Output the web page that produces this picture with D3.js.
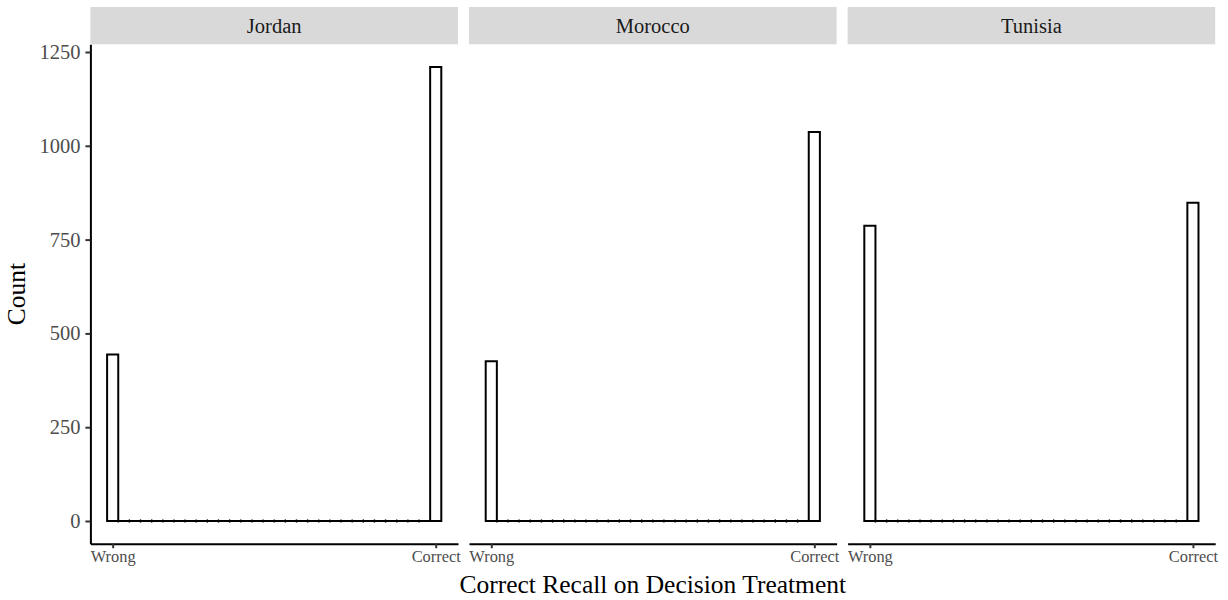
<!DOCTYPE html>
<html>
<head>
<meta charset="utf-8">
<script src="https://cdn.jsdelivr.net/npm/d3@7"></script>
<style>
  body { margin: 0; background: #fff; }
  text { font-family: "Liberation Serif", "Times New Roman", serif; }
</style>
</head>
<body>
<svg id="chart" width="1228" height="600"></svg>
<script>
// Facets: one histogram of recall (0 = Wrong, 1 = Correct) per country, 30 bins
const countries = ["Jordan", "Morocco", "Tunisia"];
const binCountsJordan  = [444, 0,0,0,0,0,0,0,0,0,0,0,0,0,0,0,0,0,0,0,0,0,0,0,0,0,0,0,0, 1210];
const binCountsMorocco = [426, 0,0,0,0,0,0,0,0,0,0,0,0,0,0,0,0,0,0,0,0,0,0,0,0,0,0,0,0, 1037];
const binCountsTunisia = [787, 0,0,0,0,0,0,0,0,0,0,0,0,0,0,0,0,0,0,0,0,0,0,0,0,0,0,0,0, 848];
const xTickValues = [0, 1];
const xTickLabels = ["Wrong", "Correct"];
const yTickValues = [0, 250, 500, 750, 1000, 1250];
const xTitle = "Correct Recall on Decision Treatment";
const yTitle = "Count";

const facetCounts = [binCountsJordan, binCountsMorocco, binCountsTunisia];

const svg = d3.select("#chart");

// Panel geometry
const panelLeft = 90.4, panelRight = 1215.2, gap = 11;
const panelW = (panelRight - panelLeft - 2 * gap) / 3;
const panelTop = 44.3, panelBottom = 543.7;
const stripTop = 7;

// Bins centred on 0 and 1 (binwidth = range / (bins - 1))
const nBins = 30;
const bw = 1 / (nBins - 1);
const lo = -bw / 2, hi = 1 + bw / 2;
const xr = hi - lo;
const xDomain = [lo - 0.05 * xr, hi + 0.05 * xr];

const yMax = d3.max(facetCounts, c => d3.max(c));
const yDomain = [-0.05 * yMax, yMax * 1.05];
const y = d3.scaleLinear().domain(yDomain).range([panelBottom, panelTop]);

facetCounts.forEach((counts, i) => {
  const px = panelLeft + i * (panelW + gap);
  const x = d3.scaleLinear().domain(xDomain).range([px, px + panelW]);
  const g = svg.append("g");

  // strip
  g.append("rect")
    .attr("x", px).attr("y", stripTop)
    .attr("width", panelW).attr("height", panelTop - stripTop)
    .attr("fill", "#D9D9D9");
  g.append("text")
    .attr("x", px + panelW / 2).attr("y", (stripTop + panelTop) / 2)
    .attr("dy", "0.35em")
    .attr("text-anchor", "middle")
    .attr("font-size", 20.5)
    .attr("fill", "#1A1A1A")
    .text(countries[i]);

  // histogram bars (empty bins collapse onto the zero line)
  const bins = counts.map((c, k) => ({ x0: lo + k * bw, x1: lo + (k + 1) * bw, n: c }));
  const bars = g.append("g");
  bars.selectAll("path.bar").data(bins).join("path")
    .attr("class", "bar")
    .attr("d", b => {
      const x0 = x(b.x0), x1 = x(b.x1), y0 = y(0), y1 = y(b.n);
      return `M${x0},${y0}V${y1}H${x1}V${y0}Z`;
    })
    .attr("fill", "#fff")
    .attr("stroke", "#000")
    .attr("stroke-width", 2)
    .attr("stroke-linejoin", "miter");
  // outline edges of the empty bins
  bars.selectAll("line.edge").data(bins.filter(b => b.n === 0)).join("line")
    .attr("class", "edge")
    .attr("x1", b => x(b.x0)).attr("x2", b => x(b.x0))
    .attr("y1", y(0) - 1.6).attr("y2", y(0) + 1.6)
    .attr("stroke", "#000").attr("stroke-width", 1.4);

  // x axis
  const xAxis = d3.axisBottom(x)
    .tickValues(xTickValues)
    .tickFormat((d, j) => xTickLabels[j])
    .tickSizeInner(4.5).tickSizeOuter(0).tickPadding(2.5);
  const ax = g.append("g").attr("transform", `translate(0,${panelBottom})`).call(xAxis);
  ax.select(".domain").attr("stroke", "#000").attr("stroke-width", 2);
  ax.selectAll(".tick line").attr("stroke", "#333").attr("stroke-width", 2);
  ax.selectAll(".tick text")
    .attr("font-size", 16.4).attr("fill", "#4D4D4D");

  // y axis on the first panel only
  if (i === 0) {
    const yAxis = d3.axisLeft(y).tickValues(yTickValues)
      .tickFormat(d3.format("d"))
      .tickSizeInner(5).tickSizeOuter(0).tickPadding(5);
    const ay = g.append("g").attr("transform", `translate(${px},0)`).call(yAxis);
    ay.select(".domain").attr("stroke", "#000").attr("stroke-width", 2);
    ay.selectAll(".tick line").attr("stroke", "#333").attr("stroke-width", 2);
    ay.selectAll(".tick text")
      .attr("font-size", 20.5).attr("fill", "#4D4D4D");
  }
});

// axis titles
svg.append("text")
  .attr("x", (panelLeft + panelRight) / 2).attr("y", 593)
  .attr("text-anchor", "middle")
  .attr("font-size", 25.5).attr("fill", "#000")
  .text(xTitle);

svg.append("text")
  .attr("transform", `translate(25,${(panelTop + panelBottom) / 2}) rotate(-90)`)
  .attr("text-anchor", "middle")
  .attr("font-size", 25.5).attr("fill", "#000")
  .text(yTitle);
</script>
</body>
</html>
